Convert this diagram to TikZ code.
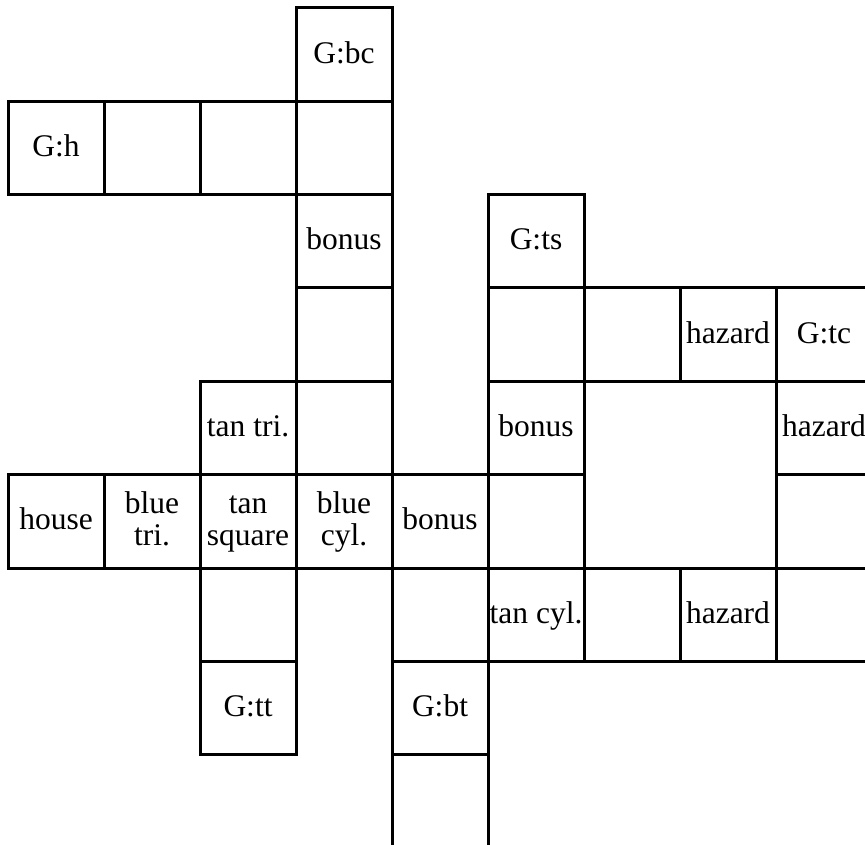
\documentclass[tikz,border=0pt]{standalone}
\usepackage{fontspec}
\setmainfont{Liberation Serif}
\begin{document}
\begin{tikzpicture}[x=1pt,y=-1pt,
  cellbox/.style={draw, line width=3pt, minimum width=96pt, minimum height=93.333pt,
    inner sep=0pt, outer sep=0pt, text height=22pt, text depth=5pt,
    font=\fontsize{31.5}{32}\selectfont},
  twoline/.style={cellbox, text height=54pt}]
\useasboundingbox (0,0) rectangle (865,845);
\clip (0,0) rectangle (865,845);
\newcommand\mycell[4][]{\node[cellbox,#1] (#2) at #3 {#4};}
\newcommand\tl[2]{\begin{tabular}[b]{@{}c@{}}#1\\#2\end{tabular}}
% row 0
\mycell{c30}{({56+96*3},{54.667+93.333*0})}{G:bc}
% row 1
\mycell{c01}{({56+96*0},{54.667+93.333*1})}{G:h}
\mycell{c11}{({56+96*1},{54.667+93.333*1})}{}
\mycell{c21}{({56+96*2},{54.667+93.333*1})}{}
\mycell{c31}{({56+96*3},{54.667+93.333*1})}{}
% row 2
\mycell{c32}{({56+96*3},{54.667+93.333*2})}{bonus}
\mycell{c52}{({56+96*5},{54.667+93.333*2})}{G:ts}
% row 3
\mycell{c33}{({56+96*3},{54.667+93.333*3})}{}
\mycell{c53}{({56+96*5},{54.667+93.333*3})}{}
\mycell{c63}{({56+96*6},{54.667+93.333*3})}{}
\mycell{c73}{({56+96*7},{54.667+93.333*3})}{hazard}
\mycell{c83}{({56+96*8},{54.667+93.333*3})}{G:tc}
% row 4
\mycell{c24}{({56+96*2},{54.667+93.333*4})}{tan tri.}
\mycell{c34}{({56+96*3},{54.667+93.333*4})}{}
\mycell{c54}{({56+96*5},{54.667+93.333*4})}{bonus}
\mycell{c84}{({56+96*8},{54.667+93.333*4})}{hazard}
% row 5
\mycell{c05}{({56+96*0},{54.667+93.333*5})}{house}
\mycell[twoline]{c15}{({56+96*1},{54.667+93.333*5})}{\tl{blue}{tri.}}
\mycell[twoline]{c25}{({56+96*2},{54.667+93.333*5})}{\tl{tan}{square}}
\mycell[twoline]{c35}{({56+96*3},{54.667+93.333*5})}{\tl{blue}{cyl.}}
\mycell{c45}{({56+96*4},{54.667+93.333*5})}{bonus}
\mycell{c55}{({56+96*5},{54.667+93.333*5})}{}
\mycell{c85}{({56+96*8},{54.667+93.333*5})}{}
% row 6
\mycell{c26}{({56+96*2},{54.667+93.333*6})}{}
\mycell{c46}{({56+96*4},{54.667+93.333*6})}{}
\mycell{c56}{({56+96*5},{54.667+93.333*6})}{tan cyl.}
\mycell{c66}{({56+96*6},{54.667+93.333*6})}{}
\mycell{c76}{({56+96*7},{54.667+93.333*6})}{hazard}
\mycell{c86}{({56+96*8},{54.667+93.333*6})}{}
% row 7
\mycell{c27}{({56+96*2},{54.667+93.333*7})}{G:tt}
\mycell{c47}{({56+96*4},{54.667+93.333*7})}{G:bt}
% row 8
\mycell{c48}{({56+96*4},{54.667+93.333*8})}{}
\end{tikzpicture}
\end{document}
